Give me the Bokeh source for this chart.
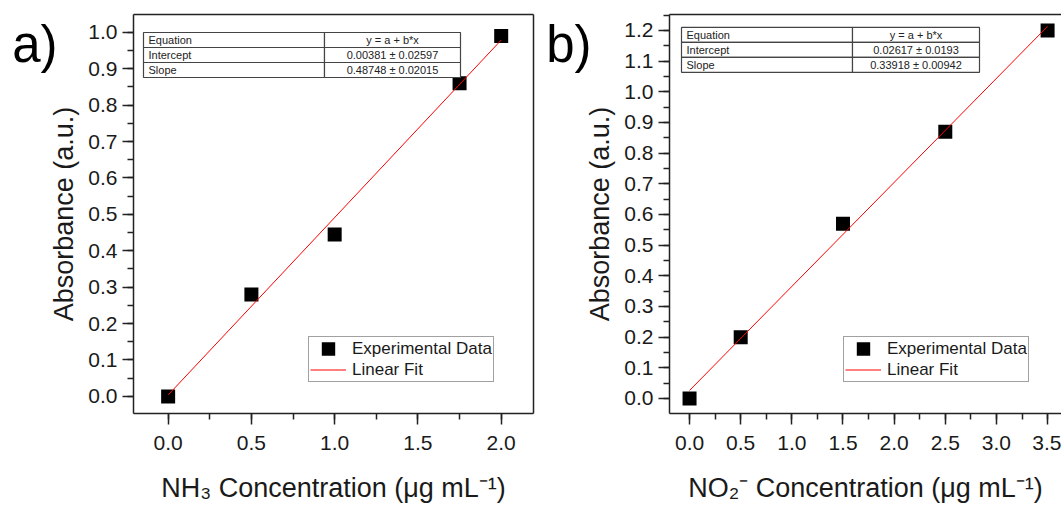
from bokeh.plotting import figure
from bokeh.layouts import row
from bokeh.models import (Range1d, SingleIntervalTicker, LinearAxis, FixedTicker,
                          PrintfTickFormatter, CustomJSTickFormatter, Legend, LegendItem)
from bokeh.core.properties import value
from bokeh.embed import file_html
from bokeh.resources import INLINE

FONT = "Liberation Sans"

# ---------------- data ----------------
nh3_conc = [0.0, 0.5, 1.0, 1.75, 2.0]
nh3_abs = [0.0, 0.28, 0.445, 0.86, 0.99]
nh3_intercept = 0.00381
nh3_slope = 0.48748
nh3_table_keys = ["Equation", "Intercept", "Slope"]
nh3_table_vals = ["y = a + b*x", "0.00381 \u00b1 0.02597", "0.48748 \u00b1 0.02015"]

no2_conc = [0.0, 0.5, 1.5, 2.5, 3.5]
no2_abs = [0.0, 0.20, 0.57, 0.87, 1.20]
no2_intercept = 0.02617
no2_slope = 0.33918
no2_table_keys = ["Equation", "Intercept", "Slope"]
no2_table_vals = ["y = a + b*x", "0.02617 \u00b1 0.0193", "0.33918 \u00b1 0.00942"]

legend_labels = ["Experimental Data", "Linear Fit"]
y_label = "Absorbance (a.u.)"
nh3_xlabel = "NH\u2083 Concentration (\u03bcg mL\u207b\u00b9)"
no2_xlabel = "NO\u2082\u207b Concentration (\u03bcg mL\u207b\u00b9)"


def make_panel(conc, absorb, intercept, slope, tkeys, tvals, xlabel, letter,
               width, offset, bl, br, bt, bb, xr, yr, table_px, legend_loc, letter_py,
               letter_standoff):
    height = 510
    p = figure(width=width, height=height, output_backend="svg", toolbar_location=None,
               x_range=Range1d(*xr), y_range=Range1d(*yr),
               min_border_left=bl, min_border_right=br, min_border_top=bt, min_border_bottom=bb,
               x_axis_type=None, y_axis_type=None)
    p.outline_line_color = None
    p.background_fill_color = "white"
    p.border_fill_color = "white"

    fl = offset + bl
    fr = offset + width - br
    ft = bt
    fb = height - bb

    def px2x(px):
        return xr[0] + (px - fl) / (fr - fl) * (xr[1] - xr[0])

    def py2y(py):
        return yr[0] + (fb - py) / (fb - ft) * (yr[1] - yr[0])

    def style_axis(ax):
        ax.axis_line_width = 1.5
        ax.axis_line_color = "#222222"
        ax.major_tick_line_width = 1.5
        ax.minor_tick_line_width = 1.5
        ax.major_tick_line_color = "#222222"
        ax.minor_tick_line_color = "#222222"
        ax.major_tick_in = 0
        ax.minor_tick_in = 0
        ax.major_tick_out = 11
        ax.minor_tick_out = 6
        ax.major_label_text_font = FONT
        ax.major_label_text_font_size = "21px"
        ax.major_label_text_color = "#1a1a1a"
        ax.axis_label_text_font = FONT
        ax.axis_label_text_font_size = "27px"
        ax.axis_label_text_font_style = "normal"
        ax.axis_label_text_color = "#1a1a1a"

    xax = LinearAxis(ticker=SingleIntervalTicker(interval=0.5, num_minor_ticks=2),
                     formatter=PrintfTickFormatter(format="%.1f"), axis_label=xlabel)
    style_axis(xax)
    xax.major_label_standoff = 11
    xax.axis_label_standoff = 20
    p.add_layout(xax, "below")

    yax = LinearAxis(ticker=SingleIntervalTicker(interval=0.1, num_minor_ticks=2),
                     formatter=PrintfTickFormatter(format="%.1f"), axis_label=y_label)
    style_axis(yax)
    yax.major_label_standoff = 5
    yax.axis_label_standoff = 6
    p.add_layout(yax, "left")

    # panel letter, carried by an outer, line-less axis so it sits outside the frame
    lax = LinearAxis(ticker=FixedTicker(ticks=[py2y(letter_py)], minor_ticks=[]),
                     formatter=CustomJSTickFormatter(args=dict(letter=letter), code="return letter"))
    lax.axis_line_alpha = 0
    lax.major_tick_out = 0
    lax.major_tick_in = 0
    lax.minor_tick_out = 0
    lax.minor_tick_in = 0
    lax.major_label_standoff = letter_standoff
    lax.major_label_text_font = FONT
    lax.major_label_text_font_size = "51px"
    lax.major_label_text_color = "black"
    lax.major_label_orientation = "horizontal"
    p.add_layout(lax, "left")

    top = LinearAxis(ticker=FixedTicker(ticks=[], minor_ticks=[]))
    style_axis(top)
    p.add_layout(top, "above")
    if br > 0:
        right = LinearAxis(ticker=FixedTicker(ticks=[], minor_ticks=[]))
        style_axis(right)
        p.add_layout(right, "right")

    p.xgrid.visible = False
    p.ygrid.visible = False

    # data marks: square of side 9 + stroke 5 -> 14 px
    sq = p.scatter(conc, absorb, marker="square", size=9, fill_color="black",
                   line_color="black", line_width=5, line_join="miter")
    fx = [conc[0], conc[-1]]
    fy = [intercept + slope * v for v in fx]
    ln = p.line(fx, fy, line_color="#ff0000", line_width=1)

    # parameter table
    left, right_, divider, top_px, row_h = table_px
    n = len(tkeys)
    tops = [top_px + i * row_h for i in range(n)]
    for l_, r_ in ((left, divider), (divider, right_)):
        p.quad(left=[px2x(l_)] * n, right=[px2x(r_)] * n,
               top=[py2y(t) for t in tops], bottom=[py2y(t + row_h) for t in tops],
               fill_color="white", line_color="#444444", line_width=1.2)
    p.text(x=[px2x(left + 5)] * n, y=[py2y(t + row_h / 2) for t in tops], text=tkeys,
           text_font=value(FONT), text_font_size="11px", text_color="#222222",
           text_align="left", text_baseline="middle")
    p.text(x=[px2x((divider + right_) / 2)] * n, y=[py2y(t + row_h / 2) for t in tops], text=tvals,
           text_font=value(FONT), text_font_size="11px", text_color="#222222",
           text_align="center", text_baseline="middle")

    legend = Legend(items=[LegendItem(label=legend_labels[0], renderers=[sq]),
                           LegendItem(label=legend_labels[1], renderers=[ln])],
                    location=legend_loc)
    legend.label_text_font = FONT
    legend.label_text_font_size = "17px"
    legend.label_text_color = "#1a1a1a"
    legend.border_line_color = "#444444"
    legend.border_line_width = 1
    legend.background_fill_color = "white"
    legend.background_fill_alpha = 1
    legend.glyph_width = 36
    legend.glyph_height = 21
    legend.label_height = 21
    legend.label_standoff = 6
    legend.padding = 1
    legend.spacing = 0
    legend.margin = 0
    p.add_layout(legend)
    return p


pa = make_panel(nh3_conc, nh3_abs, nh3_intercept, nh3_slope, nh3_table_keys, nh3_table_vals,
                nh3_xlabel, "a)", width=540, offset=0, bl=133, br=7, bt=14, bb=97,
                xr=(-0.208, 2.194), yr=(-0.047, 1.049),
                table_px=(143, 460, 324, 32, 15), legend_loc=(175, 31), letter_py=44,
                letter_standoff=-11)
pb = make_panel(no2_conc, no2_abs, no2_intercept, no2_slope, no2_table_keys, no2_table_vals,
                no2_xlabel, "b)", width=521, offset=540, bl=129, br=0, bt=14, bb=96,
                xr=(-0.196, 3.636), yr=(-0.049, 1.252),
                table_px=(681, 979, 852, 27, 15), legend_loc=(174, 31), letter_py=44,
                letter_standoff=-9)

layout = row(pa, pb)
open("out.html", "w").write(file_html(layout, INLINE))
